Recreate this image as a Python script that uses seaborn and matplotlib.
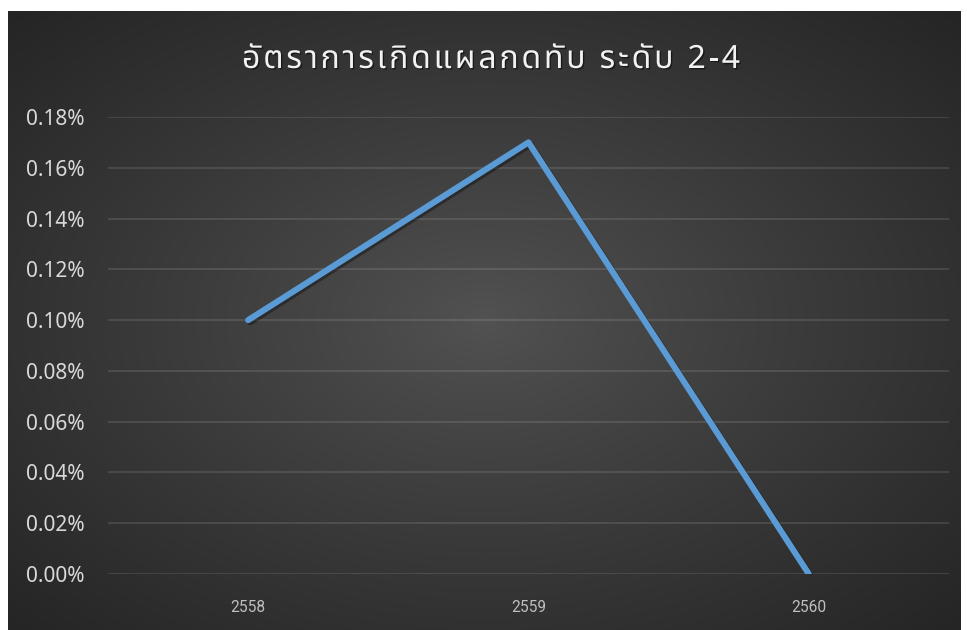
import numpy as np
import matplotlib
matplotlib.use("Agg")
import matplotlib.pyplot as plt
import matplotlib.patheffects as pe
from matplotlib.ticker import FuncFormatter
from matplotlib.font_manager import FontProperties
import seaborn as sns
import pandas as pd

years = ["2558", "2559", "2560"]
rates = [0.10, 0.17, 0.00]
yticks = [0.00, 0.02, 0.04, 0.06, 0.08, 0.10, 0.12, 0.14, 0.16, 0.18]
title = "อัตราการเกิดแผลกดทับ ระดับ 2-4"

df = pd.DataFrame({"year": years, "rate": rates})

sns.set_theme(style="dark")
W, H = 967, 630
fig = plt.figure(figsize=(W / 100, H / 100), dpi=100)
fig.patch.set_facecolor("white")

# dark panel with radial gradient
bg = fig.add_axes([8 / W, 0, 953 / W, 619 / H])
bg.set_axis_off()
nx, ny = 400, 260
xx, yy = np.meshgrid(np.linspace(-1, 1, nx), np.linspace(-1, 1, ny))
r = np.sqrt(xx ** 2 + yy ** 2) / np.sqrt(2)
r = np.clip(r, 0, 1)
inner, outer = 0x52 / 255, 0x25 / 255
val = inner + (outer - inner) * r ** 0.9
img = np.dstack([val, val, val])
bg.imshow(img, aspect="auto", extent=[0, 1, 0, 1], interpolation="bilinear")
bg.set_xlim(0, 1)
bg.set_ylim(0, 1)

ax = fig.add_axes([108 / W, (H - 574) / H, 841 / W, 457 / H])
ax.patch.set_alpha(0)
sns.lineplot(data=df, x="year", y="rate", ax=ax, color="#5B9BD5", linewidth=4.4,
             sort=False,
             path_effects=[pe.SimpleLineShadow(offset=(1.5, -1.5), shadow_color="black", alpha=0.35),
                           pe.Normal()])
ax.set_xlim(-0.5, 2.5)
ax.set_ylim(0, 0.18)
ax.set_yticks(yticks)
ax.yaxis.set_major_formatter(FuncFormatter(lambda v, p: f"{v:.2f}%"))
ax.grid(axis="y", color="white", alpha=0.13, linewidth=1.2)
ax.grid(axis="x", visible=False)
for s in ax.spines.values():
    s.set_visible(False)
ax.set_xlabel("")
ax.set_ylabel("")
ax.tick_params(axis="y", length=0, pad=17, labelsize=15, labelcolor="#d9d9d9")
ax.tick_params(axis="x", length=0, pad=19, labelsize=11.2, labelcolor="#bfbfbf")
for t in ax.get_yticklabels():
    t.set_fontfamily(["Noto Sans", "DejaVu Sans"])
for t in ax.get_xticklabels():
    t.set_fontfamily(["Roboto", "DejaVu Sans"])

# title with letter spacing (Thai grapheme clusters placed one by one)
combining = set(chr(c) for c in [0x0E31] + list(range(0x0E34, 0x0E3B)) + list(range(0x0E47, 0x0E4F)))
clusters = []
for ch in title:
    if ch in combining and clusters:
        clusters[-1] += ch
    else:
        clusters.append(ch)

tfam = ["Noto Sans Thai", "DejaVu Sans"]
tsize = 23
tweight = "medium"
prop = FontProperties(family=tfam, size=tsize, weight=tweight)
renderer = fig.canvas.get_renderer()
widths = []
for c in clusters:
    base = c[0]
    if base == " ":
        w = renderer.get_text_width_height_descent("a a", prop, ismath=False)[0] - \
            renderer.get_text_width_height_descent("aa", prop, ismath=False)[0]
    else:
        w = renderer.get_text_width_height_descent(base, prop, ismath=False)[0]
    widths.append(w)
x0, x1 = 242, 740
gap = ((x1 - x0) - sum(widths)) / (len(clusters) - 1)
x = x0
base_y = 1 - 68 / H
for c, w in zip(clusters, widths):
    if c != " ":
        fig.text(x / W, base_y, c, ha="left", va="baseline", fontsize=tsize,
                 fontweight=tweight, color="#f2f2f2", family=tfam,
                 path_effects=[pe.withSimplePatchShadow(offset=(1, -1), shadow_rgbFace="black", alpha=0.5)])
    x += w + gap

plt.savefig("out.png", dpi=100)
